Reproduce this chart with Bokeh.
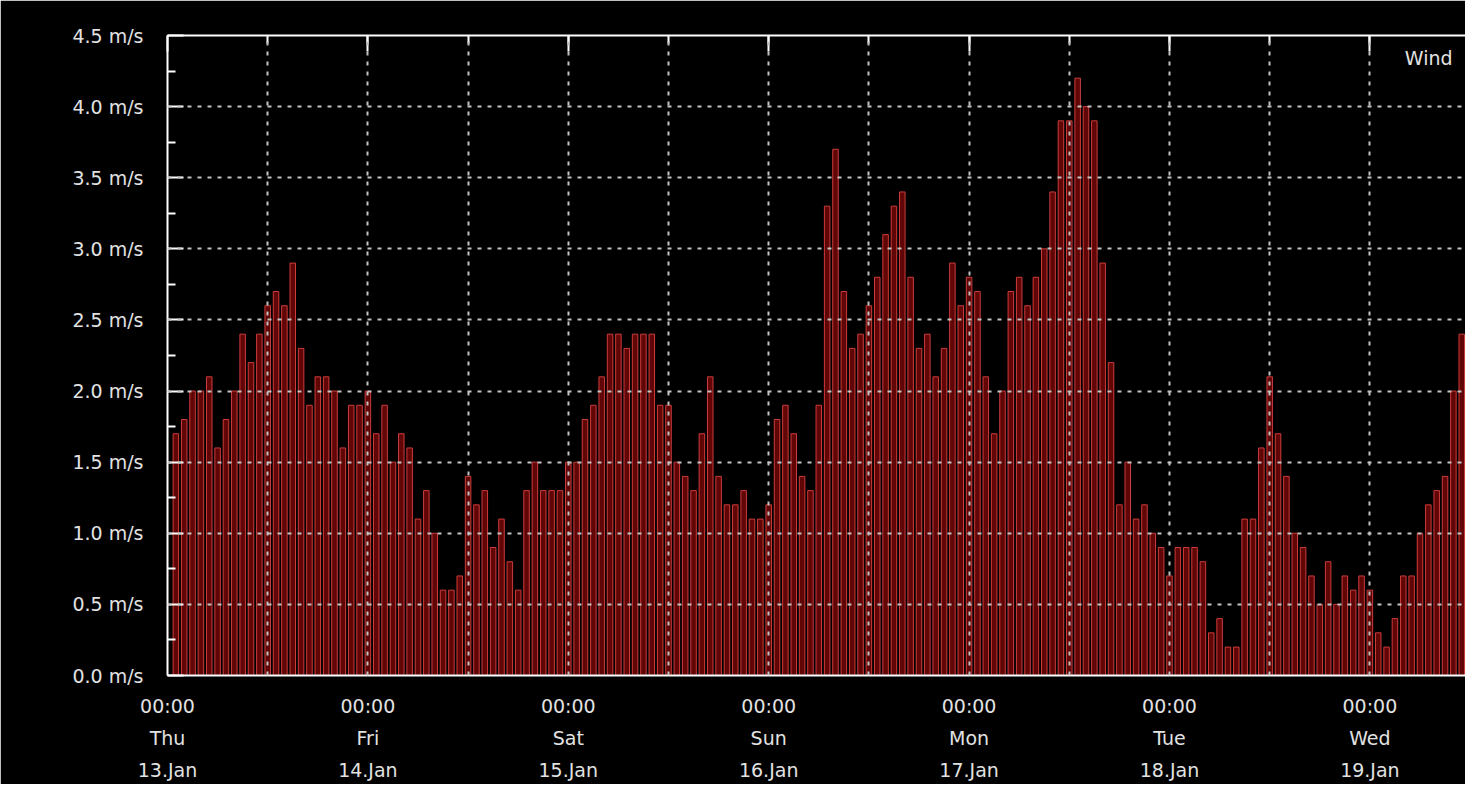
from bokeh.plotting import figure
from bokeh.models import FixedTicker, LinearAxis, PrintfTickFormatter, Range1d, Label
from bokeh.embed import file_html
from bokeh.resources import INLINE

# hourly wind speed (m/s), Thu 13 Jan 01:00 .. Wed 19 Jan 11:00
wind = [
    # Thu
    1.7, 1.8, 2.0, 2.0, 2.1, 1.6, 1.8, 2.0, 2.4, 2.2, 2.4, 2.6,
    2.7, 2.6, 2.9, 2.3, 1.9, 2.1, 2.1, 2.0, 1.6, 1.9, 1.9, 2.0,
    # Fri
    1.7, 1.9, 1.5, 1.7, 1.6, 1.1, 1.3, 1.0, 0.6, 0.6, 0.7, 1.4,
    1.2, 1.3, 0.9, 1.1, 0.8, 0.6, 1.3, 1.5, 1.3, 1.3, 1.3, 1.5,
    # Sat
    1.5, 1.8, 1.9, 2.1, 2.4, 2.4, 2.3, 2.4, 2.4, 2.4, 1.9, 1.9,
    1.5, 1.4, 1.3, 1.7, 2.1, 1.4, 1.2, 1.2, 1.3, 1.1, 1.1, 1.2,
    # Sun
    1.8, 1.9, 1.7, 1.4, 1.3, 1.9, 3.3, 3.7, 2.7, 2.3, 2.4, 2.6,
    2.8, 3.1, 3.3, 3.4, 2.8, 2.3, 2.4, 2.1, 2.3, 2.9, 2.6, 2.8,
    # Mon
    2.7, 2.1, 1.7, 2.0, 2.7, 2.8, 2.6, 2.8, 3.0, 3.4, 3.9, 3.9,
    4.2, 4.0, 3.9, 2.9, 2.2, 1.2, 1.5, 1.1, 1.2, 1.0, 0.9, 0.7,
    # Tue
    0.9, 0.9, 0.9, 0.8, 0.3, 0.4, 0.2, 0.2, 1.1, 1.1, 1.6, 2.1,
    1.7, 1.4, 1.0, 0.9, 0.7, 0.5, 0.8, 0.5, 0.7, 0.6, 0.7, 0.6,
    # Wed
    0.3, 0.2, 0.4, 0.7, 0.7, 1.0, 1.2, 1.3, 1.4, 2.0, 2.4,
]
hours = list(range(1, len(wind) + 1))  # hours since Thu 00:00

day_names = ["Thu", "Fri", "Sat", "Sun", "Mon", "Tue", "Wed"]
day_dates = ["13.Jan", "14.Jan", "15.Jan", "16.Jan", "17.Jan", "18.Jan", "19.Jan"]
day_time = "00:00"
y_ticks = [0.0, 0.5, 1.0, 1.5, 2.0, 2.5, 3.0, 3.5, 4.0, 4.5]
y_minor = [0.25, 0.75, 1.25, 1.75, 2.25, 2.75, 3.25, 3.75, 4.25]
series_name = "Wind"

day_ticks = [24 * i for i in range(len(day_names))]
half_ticks = [12 * i for i in range(1, 13)]

FONT = "DejaVu Sans"
TXT = "#e2e2e2"

p = figure(frame_width=1298, frame_height=640,
           min_border_left=167, min_border_right=0,
           min_border_top=35, min_border_bottom=109,
           x_range=Range1d(0, 155.45), y_range=Range1d(0, 4.5),
           output_backend="svg", toolbar_location=None,
           background_fill_color="black", border_fill_color="black",
           outline_line_color=None)

p.vbar(x=hours, top=wind, bottom=0, width=0.66,
       fill_color="#600606", line_color="#cc3c3c", line_width=1)

# y axis (left)
ya = p.yaxis[0]
ya.ticker = FixedTicker(ticks=y_ticks, minor_ticks=y_minor)
ya.formatter = PrintfTickFormatter(format="%.1f m/s")
ya.axis_line_color = "white"
ya.axis_line_width = 2
ya.major_tick_line_color = "white"
ya.major_tick_line_width = 2
ya.major_tick_in = 16
ya.major_tick_out = 0
ya.minor_tick_line_color = "white"
ya.minor_tick_line_width = 2
ya.minor_tick_in = 8
ya.minor_tick_out = 0
ya.major_label_text_font = FONT
ya.major_label_text_font_size = "19px"
ya.major_label_text_color = TXT
ya.major_label_standoff = 24

# x axis (bottom)
xa = p.xaxis[0]
xa.ticker = FixedTicker(ticks=day_ticks)
xa.major_label_overrides = {t: f"{day_time}\n{n}\n{d}"
                            for t, n, d in zip(day_ticks, day_names, day_dates)}
xa.axis_line_color = "white"
xa.axis_line_width = 2
xa.major_tick_line_color = None
xa.minor_tick_line_color = None
xa.major_label_text_font = FONT
xa.major_label_text_font_size = "19px"
xa.major_label_text_color = TXT
xa.major_label_text_line_height = 1.47
xa.major_label_standoff = 13

# top axis
ta = LinearAxis(ticker=FixedTicker(ticks=day_ticks, minor_ticks=half_ticks))
ta.axis_line_color = "white"
ta.axis_line_width = 2
ta.major_tick_line_color = "white"
ta.major_tick_line_width = 2
ta.major_tick_in = 16
ta.major_tick_out = 0
ta.minor_tick_line_color = "white"
ta.minor_tick_line_width = 2
ta.minor_tick_in = 8
ta.minor_tick_out = 0
ta.major_label_text_font_size = "0px"
ta.major_label_text_color = None
p.add_layout(ta, "above")

# grids
p.xgrid.ticker = FixedTicker(ticks=half_ticks)
p.ygrid.ticker = FixedTicker(ticks=y_ticks[1:-1])
for g in (p.xgrid[0], p.ygrid[0]):
    g.grid_line_color = "#c4c4c4"
    g.grid_line_width = 2
    g.grid_line_dash = "4 6"
    g.level = "overlay"

p.add_layout(Label(x=153.9, y=4.34, text=series_name, text_align="right",
                   text_baseline="middle", text_font=FONT,
                   text_font_size="19px", text_color=TXT))

open("out.html", "w").write(file_html(p, INLINE))
